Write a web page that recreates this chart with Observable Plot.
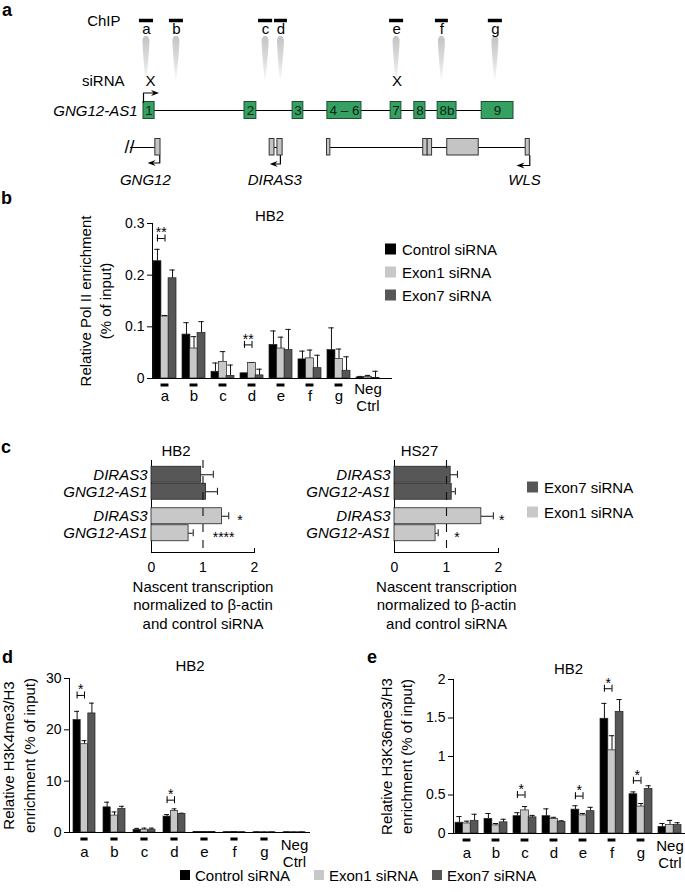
<!DOCTYPE html>
<html><head><meta charset="utf-8">
<script src="https://cdn.jsdelivr.net/npm/d3@7"></script>
<script src="https://cdn.jsdelivr.net/npm/@observablehq/plot@0.6"></script>
<style>
body{margin:0;background:#fff;}
#fig{position:relative;width:685px;height:892px;overflow:hidden;background:#fff}
</style></head><body><div id="fig"></div>
<script>
// ================= DATA =================
// Panel a : gene model (diagram units along the locus)
const exonNames  = ["1","2","3","4 – 6","7","8","8b","9"];
const exonStart  = [0, 27.3, 40.3, 49.7, 66.8, 73.2, 79.5, 91.4];
const exonEnd    = [3, 30.5, 43.2, 58.9, 69.7, 76.2, 84.6, 100];
const chipSites  = ["a","b","c","d","e","f","g"];
const chipStart  = [-1.1, 7.0, 31.1, 35.4, 66.5, 78.9, 93.2];
const chipEnd    = [2.7, 10.8, 34.9, 38.9, 70.3, 82.4, 97.0];
const sirnaPos   = [1.9, 68.5];
const nbGenes    = ["GNG12","DIRAS3","WLS"];
const nbLabelPos = [0.5, 35.5, 103];
const nbLineStart= [-3.5, 35.4, 50.5];
const nbLineEnd  = [3.2, 36.2, 103.3];
const nbTss      = [4.4, 37.0, 104.4];
const nbTip      = [1.1, 34.1, 100.8];
const nbExonStart= [3.2, 34.1, 36.2, 49.6, 75.6, 76.8, 82.1, 103.3];
const nbExonEnd  = [4.6, 35.4, 37.6, 50.5, 76.8, 78.0, 90.6, 104.4];

// Shared categories / series
const sites = ["a","b","c","d","e","f","g","Neg Ctrl"];
const seriesNames = ["Control siRNA","Exon1 siRNA","Exon7 siRNA"];
const seriesColors = ["#000000","#c8c8c8","#575757"];

// Panel b : Pol II (% of input)
const polControl    = [0.227,0.085,0.013,0.010,0.065,0.037,0.055,0.002];
const polControlErr = [0.250,0.108,0.030,0.010,0.092,0.053,0.098,0.004];
const polExon1      = [0.120,0.058,0.032,0.030,0.058,0.039,0.038,0.003];
const polExon1Err   = [0.122,0.081,0.052,0.031,0.080,0.055,0.057,0.006];
const polExon7      = [0.194,0.088,0.005,0.006,0.055,0.020,0.015,0.001];
const polExon7Err   = [0.210,0.110,0.026,0.018,0.095,0.045,0.042,0.014];
const polSigSite = ["a","d"], polSigY = [0.271,0.065], polSigLabel = ["**","**"];

// Panel c : nascent transcription
const cGenes = ["DIRAS3","GNG12-AS1"];
const hb2Exon7 = [0.965,1.06], hb2Exon7Err = [1.20,1.28];
const hb2Exon1 = [1.37,0.72],  hb2Exon1Err = [1.50,0.81];
const hb2Stars = ["*","****"], hb2StarX = [1.72,1.40];
const hs27Exon7 = [1.08,1.10], hs27Exon7Err = [1.21,1.17];
const hs27Exon1 = [1.67,0.79], hs27Exon1Err = [1.90,0.84];
const hs27Stars = ["*","*"], hs27StarX = [2.06,1.20];

// Panel d : H3K4me3/H3
const k4Control    = [21.9,4.9,0.5,3.1,0.1,0.06,0.05,0.05];
const k4ControlErr = [23.6,5.9,0.8,3.5,0.15,0.1,0.1,0.1];
const k4Exon1      = [17.2,3.3,0.55,4.2,0.1,0.1,0.05,0.05];
const k4Exon1Err   = [17.9,4.0,0.85,4.6,0.15,0.15,0.1,0.1];
const k4Exon7      = [23.2,4.6,0.55,3.6,0.1,0.06,0.05,0.05];
const k4Exon7Err   = [25.2,5.1,0.85,3.75,0.15,0.1,0.1,0.1];
const k4SigSite = ["a","d"], k4SigY = [26.7,6.3], k4SigLabel = ["*","*"];

// Panel e : H3K36me3/H3
const k36Control    = [0.14,0.19,0.225,0.225,0.31,1.49,0.51,0.085];
const k36ControlErr = [0.22,0.26,0.27,0.32,0.36,1.69,0.54,0.13];
const k36Exon1      = [0.13,0.105,0.30,0.19,0.235,1.08,0.35,0.11];
const k36Exon1Err   = [0.16,0.13,0.35,0.21,0.26,1.27,0.39,0.17];
const k36Exon7      = [0.165,0.145,0.21,0.15,0.29,1.58,0.58,0.11];
const k36Exon7Err   = [0.25,0.185,0.235,0.165,0.34,1.74,0.62,0.14];
const k36SigSite = ["c","e","f","g"], k36SigY = [0.50,0.485,1.88,0.685], k36SigLabel = ["*","*","*","*"];

// ================= LAYOUT / RENDER =================
const FONT = '"Liberation Sans", Arial, Helvetica, sans-serif';
const fig = document.getElementById("fig");
const baseStyle = {background: "none", overflow: "visible", fontFamily: FONT, fontSize: "14px", color: "#000"};
function place(svg, top) {
  svg.style.position = "absolute"; svg.style.left = "0px"; svg.style.top = top + "px";
  fig.appendChild(svg);
}

// ---------- Panel a ----------
(function () {
  const exons = exonNames.map((n, i) => ({name: n, start: exonStart[i], end: exonEnd[i]}));
  const chips = chipSites.map((s, i) => ({site: s, start: chipStart[i], end: chipEnd[i], mid: (chipStart[i] + chipEnd[i]) / 2}));
  const coneProfile = [[36, 0.35], [38.5, 0.85], [45, 0.9], [83, 0.08]];
  const cones = chips.flatMap(c => coneProfile.map(([y, h]) => ({site: c.site, y, x1: c.mid - h, x2: c.mid + h})));
  const nbExons = nbExonStart.map((s, i) => ({start: s, end: nbExonEnd[i]}));
  const nb = nbGenes.map((g, i) => ({gene: g, label: nbLabelPos[i], l0: nbLineStart[i], l1: nbLineEnd[i], tss: nbTss[i], tip: nbTip[i]}));
  const arrowY = [162.5, 163.5, 165];
  const arrowLines = [
    {id: "AS1", x: exonStart[0], y: 102}, {id: "AS1", x: exonStart[0], y: 92.5}, {id: "AS1", x: exonStart[0] + 3.3, y: 92.5},
    ...nb.flatMap((g, i) => [{id: g.gene, x: g.tss, y: 155}, {id: g.gene, x: g.tss, y: arrowY[i]}, {id: g.gene, x: g.tip + 1, y: arrowY[i]}])
  ];
  const dart = {draw(ctx, size) {
    const r = Math.sqrt(size / Math.PI);
    ctx.moveTo(r, 0); ctx.lineTo(-r, -0.75 * r); ctx.lineTo(-0.35 * r, 0); ctx.lineTo(-r, 0.75 * r); ctx.closePath();
  }};
  const svg = Plot.plot({
    width: 685, height: 190, margin: 0,
    style: baseStyle,
    x: {domain: [-143 / 3.7, (685 - 143) / 3.7], range: [0, 685], axis: null},
    y: {domain: [0, 190], range: [0, 190], axis: null},
    marks: [
      Plot.areaX(cones, {y: "y", x1: "x1", x2: "x2", z: "site", fill: "url(#cone)", curve: "catmull-rom"}),
      Plot.ruleY(chips, {x1: "start", x2: "end", y: 20, stroke: "#000", strokeWidth: 3.5}),
      Plot.text(chips, {x: "mid", y: 33.5, text: "site", lineAnchor: "bottom", fontSize: 15}),
      Plot.text(["ChIP"], {x: 0, y: 25, text: d => d, textAnchor: "end", dx: -23, lineAnchor: "bottom", fontSize: 15}),
      Plot.text(["siRNA"], {x: 0, y: 85, text: d => d, textAnchor: "end", dx: -19, lineAnchor: "bottom", fontSize: 15}),
      Plot.text(sirnaPos, {x: d => d, y: 85, text: () => "X", lineAnchor: "bottom", fontSize: 15}),
      Plot.text(["GNG12-AS1"], {x: 0, y: 115, text: d => d, textAnchor: "end", dx: -6, lineAnchor: "bottom", fontSize: 15, fontStyle: "italic"}),
      Plot.ruleY([0], {x1: exonStart[0], x2: exonEnd[exonEnd.length - 1], y: 110, stroke: "#000", strokeWidth: 1}),
      Plot.rect(exons, {x1: "start", x2: "end", y1: 101.5, y2: 118.5, fill: "#35a062", stroke: "#1c4f2f", strokeWidth: 1}),
      Plot.text(exons, {x: d => (d.start + d.end) / 2, y: 110, text: "name", fontSize: 13.5, fill: "#0b2414", lineAnchor: "middle"}),
      // neighbouring genes
      Plot.ruleY(nb, {x1: "l0", x2: "l1", y: 147, stroke: "#000", strokeWidth: 1}),
      Plot.rect(nbExons, {x1: "start", x2: "end", y1: 138.5, y2: 155, fill: "#c4c4c4", stroke: "#333", strokeWidth: 1}),
      Plot.text(["//"], {x: nbLineStart[0], y: 147, text: d => d, lineAnchor: "middle", fontSize: 18, dx: -1, letterSpacing: "2px"}),
      Plot.text(nb, {x: "label", y: 184, text: "gene", lineAnchor: "bottom", fontSize: 15, fontStyle: "italic"}),
      // transcription start arrows
      Plot.line(arrowLines, {x: "x", y: "y", z: "id", stroke: "#000", strokeWidth: 1.2}),
      Plot.dot([exonStart[0] + 4.2], {x: d => d, y: 92.5, symbol: dart, r: 4, fill: "#000", stroke: "none", dx: -4}),
      Plot.dot(nb.map((g, i) => ({x: g.tip, y: arrowY[i]})), {x: "x", y: "y", symbol: dart, r: 4, rotate: 180, fill: "#000", stroke: "none", dx: 4})
    ]
  });
  const defs = d3.select(svg).insert("defs", ":first-child");
  const lg = defs.append("linearGradient").attr("id", "cone").attr("x1", 0).attr("y1", 0).attr("x2", 0).attr("y2", 1);
  lg.append("stop").attr("offset", 0).attr("stop-color", "#c4c4c4");
  lg.append("stop").attr("offset", 0.55).attr("stop-color", "#dedede");
  lg.append("stop").attr("offset", 1).attr("stop-color", "#ffffff");
  place(svg, 0);
})();

// ---------- grouped bar panels (b, d, e) ----------
function barPanel(o) {
  const mt = o.frameTop - o.top, mb = o.top + o.height - o.frameBottom;
  const padOut = o.padIn / 2;
  const band = d3.scaleBand().domain(sites).range(o.range).paddingInner(o.padIn).paddingOuter(padOut);
  const bw = band.bandwidth(), w3 = bw / 3, capW = 5;
  const rows = [];
  sites.forEach((s, i) => o.values.forEach((vals, k) => rows.push({site: s, k, value: vals[i], err: o.errs[k][i]})));
  const pxPerUnit = (o.frameBottom - o.frameTop) / o.yDomain[1];
  const capH = 3.5 / pxPerUnit;
  const sig = o.sigSite.map((s, i) => ({site: s, y: o.sigY[i], label: o.sigLabel[i]}));
  const marks = [];
  for (let k = 0; k < 3; k++) {
    const d = rows.filter(r => r.k === k);
    marks.push(Plot.ruleX(d, {x: "site", y1: "value", y2: "err", dx: (k - 1) * w3, stroke: "#111", strokeWidth: 1}));
    marks.push(Plot.tickY(d, {x: "site", y: "err", insetLeft: k * w3 + (w3 - capW) / 2, insetRight: (2 - k) * w3 + (w3 - capW) / 2, stroke: "#111", strokeWidth: 1}));
    marks.push(Plot.barY(d, {x: "site", y: "value", fill: seriesColors[k], stroke: "#222", strokeWidth: 0.7, insetLeft: k * w3, insetRight: (2 - k) * w3}));
  }
  marks.push(
    Plot.ruleY([0], {stroke: "#000", strokeWidth: 1}),
    // significance brackets
    Plot.tickY(sig, {x: "site", y: "y", insetLeft: bw / 6, insetRight: bw / 2, stroke: "#000", strokeWidth: 1}),
    Plot.ruleX(sig, {x: "site", y1: d => d.y - capH, y2: d => d.y + capH, dx: -w3, stroke: "#000", strokeWidth: 1}),
    Plot.ruleX(sig, {x: "site", y1: d => d.y - capH, y2: d => d.y + capH, dx: 0, stroke: "#000", strokeWidth: 1}),
    Plot.text(sig, {x: "site", y: "y", text: "label", dx: -bw / 6, dy: -1, lineAnchor: "bottom", fontSize: 14}),
    // site dashes and labels
    Plot.tickY(sites.filter(s => s !== "Neg Ctrl"), {x: d => d, y: 0, dy: 6.5, insetLeft: w3, insetRight: w3, stroke: "#000", strokeWidth: 3}),
    Plot.text(sites.filter(s => s !== "Neg Ctrl"), {x: d => d, y: 0, text: d => d, dy: o.letterDy, lineAnchor: "bottom", fontSize: 15}),
    Plot.text(["Neg Ctrl"], {x: d => d, y: 0, text: d => d.replace(" ", "\n"), dy: o.letterDy + 10, lineAnchor: "bottom", lineHeight: 1.12, fontSize: 15}),
    // title & y label
    Plot.text([o.title], {frameAnchor: "top", text: d => d, dx: o.titleDx, dy: o.titleDy, lineAnchor: "bottom", fontSize: 15}),
    Plot.text([o.ylabel], {frameAnchor: "left", text: d => d, rotate: -90, textAnchor: "middle", dx: o.ylabelDx, lineAnchor: "middle", lineHeight: 1.35, fontSize: 15})
  );
  const svg = Plot.plot({
    width: 685, height: o.height,
    marginTop: mt, marginBottom: mb, marginLeft: o.left, marginRight: 685 - o.right,
    style: baseStyle,
    x: {domain: sites, range: o.range, paddingInner: o.padIn, paddingOuter: padOut, axis: null},
    y: {domain: o.yDomain, ticks: o.yTicks, tickFormat: d => String(d), tickSize: 5, tickPadding: 3, line: true, label: null},
    marks
  });
  place(svg, o.top);
}

barPanel({
  top: 200, height: 226, frameTop: 223, frameBottom: 378, left: 152, right: 392, range: [150, 382], padIn: 0.22,
  values: [polControl, polExon1, polExon7], errs: [polControlErr, polExon1Err, polExon7Err],
  yDomain: [0, 0.3], yTicks: [0, 0.1, 0.2, 0.3],
  sigSite: polSigSite, sigY: polSigY, sigLabel: polSigLabel,
  title: "HB2", titleDx: -3, titleDy: -3, letterDy: 22,
  ylabel: "Relative Pol II enrichment\n(% of input)", ylabelDx: -58
});
barPanel({
  top: 648, height: 224, frameTop: 678, frameBottom: 832, left: 69, right: 310, range: [69, 309], padIn: 0.26,
  values: [k4Control, k4Exon1, k4Exon7], errs: [k4ControlErr, k4Exon1Err, k4Exon7Err],
  yDomain: [0, 30], yTicks: [0, 10, 20, 30],
  sigSite: k4SigSite, sigY: k4SigY, sigLabel: k4SigLabel,
  title: "HB2", titleDx: 0, titleDy: -8, letterDy: 24,
  ylabel: "Relative H3K4me3/H3\nenrichment (% of input)", ylabelDx: -51.5
});
barPanel({
  top: 648, height: 224, frameTop: 679, frameBottom: 833, left: 453, right: 685, range: [451.5, 685], padIn: 0.22,
  values: [k36Control, k36Exon1, k36Exon7], errs: [k36ControlErr, k36Exon1Err, k36Exon7Err],
  yDomain: [0, 2], yTicks: [0, 0.5, 1, 1.5, 2],
  sigSite: k36SigSite, sigY: k36SigY, sigLabel: k36SigLabel,
  title: "HB2", titleDx: -1, titleDy: -6, letterDy: 24,
  ylabel: "Relative H3K36me3/H3\nenrichment (% of input)", ylabelDx: -58
});

// ---------- Panel c (horizontal bars) ----------
function cPanel(o) {
  const top = 440, height = 200, frameTop = 460, frameBottom = 552;
  const rowsDomain = ["Exon7 siRNA|DIRAS3", "Exon7 siRNA|GNG12-AS1", "Exon1 siRNA|DIRAS3", "Exon1 siRNA|GNG12-AS1"];
  const groups = [
    {name: "Exon7 siRNA", vals: o.exon7, errs: o.exon7Err, stars: null, color: seriesColors[2], dy: -3.75},
    {name: "Exon1 siRNA", vals: o.exon1, errs: o.exon1Err, stars: o.stars, starX: o.starX, color: seriesColors[1], dy: 3.75}
  ];
  const marks = [Plot.ruleX([0], {stroke: "#000", strokeWidth: 1})];
  for (const g of groups) {
    const d = cGenes.map((gene, i) => ({row: g.name + "|" + gene, gene, value: g.vals[i], err: g.errs[i],
      star: g.stars ? g.stars[i] : null, starX: g.stars ? g.starX[i] : null}));
    marks.push(
      Plot.ruleY(d, {y: "row", x1: "value", x2: "err", dy: g.dy, stroke: "#111", strokeWidth: 1}),
      Plot.tickX(d, {y: "row", x: "err", dy: g.dy, insetTop: 4.5, insetBottom: 4.5, stroke: "#111", strokeWidth: 1}),
      Plot.barX(d, {y: "row", x: "value", dy: g.dy, fill: g.color, stroke: "#222", strokeWidth: 0.8}),
      Plot.text(d, {y: "row", x: 0, text: "gene", dy: g.dy, dx: -4, textAnchor: "end", lineAnchor: "middle", fontSize: 15, fontStyle: "italic"})
    );
    if (g.stars) marks.push(Plot.text(d, {y: "row", x: "starX", text: "star", dy: g.dy + 4, lineAnchor: "middle", fontSize: 14}));
  }
  marks.push(
    Plot.ruleX([1], {stroke: "#111", strokeWidth: 1.1, strokeDasharray: "8,8"}),
    Plot.ruleX([2], {stroke: "#000", strokeWidth: 1, insetTop: frameBottom - frameTop - 4}),
    Plot.text([o.title], {frameAnchor: "top", text: d => d, dx: -27, dy: -5, lineAnchor: "bottom", fontSize: 15}),
    Plot.text(["Nascent transcription\nnormalized to β-actin\nand control siRNA"], {frameAnchor: "bottom", text: d => d, dy: 25.7, lineAnchor: "top", lineHeight: 1.25, fontSize: 15})
  );
  const svg = Plot.plot({
    width: 685, height,
    marginTop: frameTop - top, marginBottom: top + height - frameBottom, marginLeft: o.left, marginRight: 685 - o.right,
    style: baseStyle,
    x: {domain: [0, 2], ticks: [0, 1, 2], tickFormat: d => String(d), tickSize: 0, tickPadding: 10, line: true, label: null},
    y: {domain: rowsDomain, range: [467 - top, 540 - top], padding: 0.07, axis: null},
    marks
  });
  place(svg, top);
}
cPanel({left: 151, right: 254, title: "HB2", exon7: hb2Exon7, exon7Err: hb2Exon7Err, exon1: hb2Exon1, exon1Err: hb2Exon1Err, stars: hb2Stars, starX: hb2StarX});
cPanel({left: 394, right: 498, title: "HS27", exon7: hs27Exon7, exon7Err: hs27Exon7Err, exon1: hs27Exon1, exon1Err: hs27Exon1Err, stars: hs27Stars, starX: hs27StarX});

// ---------- panel letters & legends ----------
const ov = d3.select(fig).append("svg").attr("width", 685).attr("height", 892)
  .style("position", "absolute").style("left", 0).style("top", 0).style("font-family", FONT);
const panelLetters = [["a", 2, 16], ["b", 1, 204], ["c", 1, 453], ["d", 2, 663], ["e", 367, 663]];
ov.selectAll("text.pl").data(panelLetters).join("text").attr("class", "pl")
  .attr("x", d => d[1]).attr("y", d => d[2]).attr("font-weight", "bold").attr("font-size", 18).text(d => d[0]);
function legendItem(x, y, color, label) {
  ov.append("rect").attr("x", x).attr("y", y - 5.5).attr("width", 11).attr("height", 11).attr("fill", color);
  ov.append("text").attr("x", x + 17).attr("y", y + 5.5).attr("font-size", 15).text(label);
}
// panel b legend
seriesNames.forEach((s, k) => legendItem(385, 249 + 23 * k, seriesColors[k], s));
// panel c legend
legendItem(527, 487, seriesColors[2], seriesNames[2]);
legendItem(527, 512, seriesColors[1], seriesNames[1]);
// bottom legend
const bottomX = [180, 314, 432];
seriesNames.forEach((s, k) => {
  ov.append("rect").attr("x", bottomX[k]).attr("y", 870).attr("width", 10).attr("height", 10).attr("fill", seriesColors[k]);
  ov.append("text").attr("x", bottomX[k] + 15).attr("y", 881).attr("font-size", 15).text(s);
});
</script></body></html>
